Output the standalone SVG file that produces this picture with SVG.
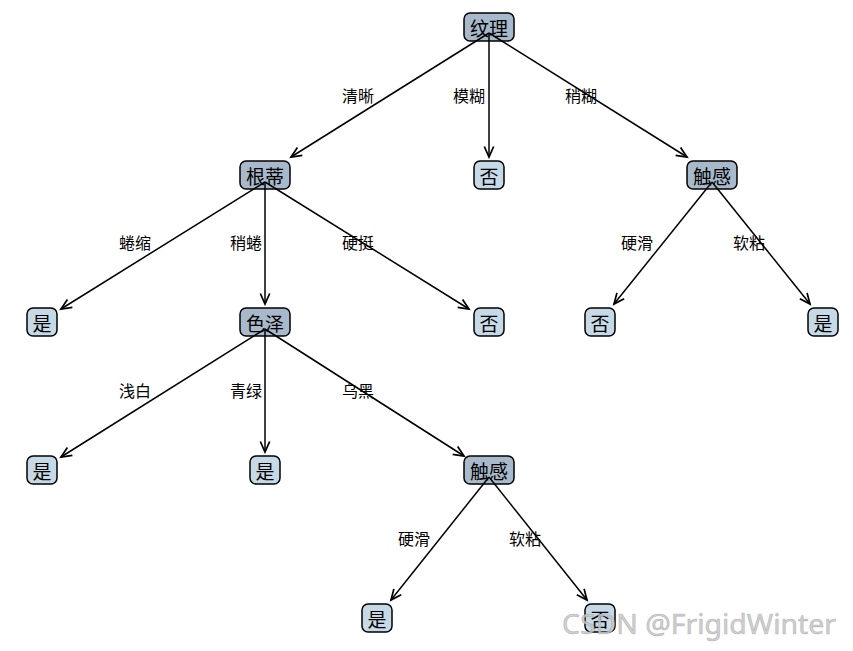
<svg xmlns="http://www.w3.org/2000/svg" width="853" height="651" viewBox="0 0 853 651">
<style>
.bg{fill:#ffffff}
.dec rect{fill:#a7b9cb;stroke:#000;stroke-width:1.5}
.leaf rect{fill:#c6d9e6;stroke:#000;stroke-width:1.5}
.nt{font-family:"Noto Sans CJK SC","Noto Sans",sans-serif;font-size:19px;fill:#000;text-anchor:middle;dominant-baseline:central}
.lb{font-family:"Noto Sans CJK SC","Noto Sans",sans-serif;font-size:16px;fill:#000;text-anchor:middle;dominant-baseline:central}
#edges line{stroke:#000;stroke-width:1.5;marker-end:url(#arr)}
.wm{font-family:"Noto Sans","DejaVu Sans",sans-serif;font-size:28px;fill:#c8c8c8;fill-opacity:0.85;stroke:#8a8a8a;stroke-opacity:0.5;stroke-width:0.6}
</style>
<defs>
<marker id="arr" markerUnits="userSpaceOnUse" markerWidth="14" markerHeight="14" viewBox="-10 -6 12 12" refX="0" refY="0" orient="auto">
<path d="M-9,-4 L0,0 L-9,4" fill="none" stroke="#000" stroke-width="1.5"/>
</marker>
</defs>
<rect class="bg" x="0" y="0" width="853" height="651"/>
<g id="nodes">
<g id="n_root" class="dec"><rect x="464" y="13" width="50" height="28" rx="6"/><text class="nt" x="489" y="27">纹理</text></g>
<g id="n_gendi" class="dec"><rect x="240" y="161" width="50" height="28" rx="6"/><text class="nt" x="265" y="175">根蒂</text></g>
<g id="n_fou1" class="leaf"><rect x="474" y="161" width="30" height="28" rx="6"/><text class="nt" x="489" y="175">否</text></g>
<g id="n_chugan1" class="dec"><rect x="687" y="161" width="50" height="28" rx="6"/><text class="nt" x="712" y="175">触感</text></g>
<g id="n_shi1" class="leaf"><rect x="27" y="308" width="30" height="28" rx="6"/><text class="nt" x="42" y="322">是</text></g>
<g id="n_seze" class="dec"><rect x="240" y="308" width="50" height="28" rx="6"/><text class="nt" x="265" y="322">色泽</text></g>
<g id="n_fou2" class="leaf"><rect x="474" y="308" width="30" height="28" rx="6"/><text class="nt" x="489" y="322">否</text></g>
<g id="n_fou3" class="leaf"><rect x="585" y="308" width="30" height="28" rx="6"/><text class="nt" x="600" y="322">否</text></g>
<g id="n_shi2" class="leaf"><rect x="808" y="308" width="30" height="28" rx="6"/><text class="nt" x="823" y="322">是</text></g>
<g id="n_shi3" class="leaf"><rect x="27" y="456" width="30" height="28" rx="6"/><text class="nt" x="42" y="470">是</text></g>
<g id="n_shi4" class="leaf"><rect x="250" y="456" width="30" height="28" rx="6"/><text class="nt" x="265" y="470">是</text></g>
<g id="n_chugan2" class="dec"><rect x="464" y="456" width="50" height="28" rx="6"/><text class="nt" x="489" y="470">触感</text></g>
<g id="n_shi5" class="leaf"><rect x="362" y="604" width="30" height="28" rx="6"/><text class="nt" x="377" y="618">是</text></g>
<g id="n_fou4" class="leaf"><rect x="585" y="604" width="30" height="28" rx="6"/><text class="nt" x="600" y="618">否</text></g>
</g>
<g id="edges">
<line x1="489" y1="33" x2="291" y2="157"/>
<line x1="489" y1="33" x2="489" y2="157"/>
<line x1="489" y1="33" x2="687" y2="157"/>
<line x1="265" y1="182" x2="61" y2="309"/>
<line x1="265" y1="182" x2="265" y2="304"/>
<line x1="265" y1="182" x2="469" y2="309"/>
<line x1="712" y1="182" x2="614" y2="304"/>
<line x1="712" y1="182" x2="810" y2="304"/>
<line x1="265" y1="329" x2="61" y2="457"/>
<line x1="265" y1="329" x2="265" y2="452"/>
<line x1="265" y1="329" x2="464" y2="456"/>
<line x1="489" y1="477" x2="391" y2="600"/>
<line x1="489" y1="477" x2="587" y2="600"/>
</g>
<g id="labels">
<text class="lb" x="358" y="95">清晰</text>
<text class="lb" x="469" y="95">模糊</text>
<text class="lb" x="581" y="95">稍糊</text>
<text class="lb" x="135" y="242">蜷缩</text>
<text class="lb" x="246" y="242">稍蜷</text>
<text class="lb" x="358" y="242">硬挺</text>
<text class="lb" x="637" y="242">硬滑</text>
<text class="lb" x="749" y="242">软粘</text>
<text class="lb" x="135" y="390">浅白</text>
<text class="lb" x="246" y="390">青绿</text>
<text class="lb" x="358" y="390">乌黑</text>
<text class="lb" x="414" y="538">硬滑</text>
<text class="lb" x="525" y="538">软粘</text>
</g>
<text class="wm" x="562" y="634" textLength="274" lengthAdjust="spacingAndGlyphs">CSDN @FrigidWinter</text>
</svg>
